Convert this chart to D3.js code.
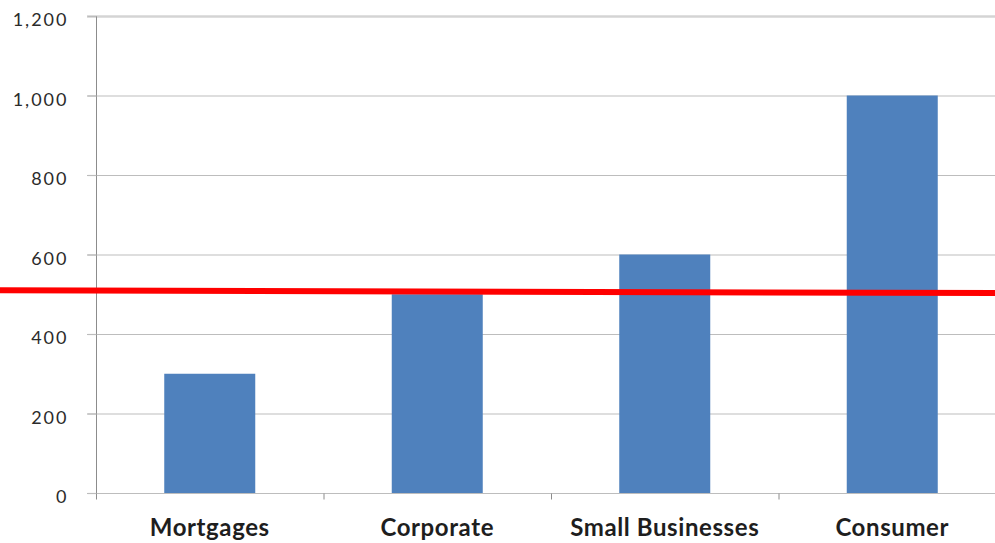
<!DOCTYPE html>
<html>
<head>
<meta charset="utf-8">
<script src="https://cdn.jsdelivr.net/npm/d3@7"></script>
<style>
  body { margin: 0; background: #fff; }
  svg { display: block; }
</style>
</head>
<body>
<svg width="995" height="543"></svg>
<script>
// chart data
var categories = ["Mortgages", "Corporate", "Small Businesses", "Consumer"];
var values = [300, 500, 600, 1000];
var yTicks = [0, 200, 400, 600, 800, 1000, 1200];
// red threshold line, value at left edge and right edge
var thresholdValues = [510, 503];

var svg = d3.select("svg"),
  width = +svg.attr("width"),
  height = +svg.attr("height");

var margin = {left: 96, top: 16, bottom: 50};
var plotRight = 1006;

var x = d3.scaleBand()
  .domain(categories)
  .range([margin.left, plotRight])
  .paddingInner(0.6)
  .paddingOuter(0.3);

var y = d3.scaleLinear()
  .domain([0, 1200])
  .range([height - margin.bottom, margin.top]);

var fmt = d3.format(",");

// gridlines
svg.append("g")
  .attr("class", "grid")
  .selectAll("line")
  .data(yTicks.filter(function (d) { return d > 0; }))
  .enter().append("line")
  .attr("x1", margin.left - 9)
  .attr("x2", width)
  .attr("y1", function (d) { return y(d) + 0.5; })
  .attr("y2", function (d) { return y(d) + 0.5; })
  .attr("stroke", function (d) { return d == 1200 ? "#d4d4d4" : "#bdbdbd"; })
  .attr("stroke-width", function (d) { return d == 1200 ? 2.5 : 1.2; });

// y axis
var yAxis = svg.append("g")
  .attr("transform", "translate(" + (margin.left + 0.5) + ",0)")
  .call(d3.axisLeft(y).tickValues(yTicks).tickFormat(fmt).tickSize(9).tickPadding(19));
yAxis.select(".domain").attr("stroke", "#8c8c8c").attr("d", "M0," + y(1200) + "V" + (y(0) + 6));
yAxis.selectAll(".tick line").attr("stroke", "#bdbdbd").attr("stroke-width", 1.2);
yAxis.selectAll(".tick text")
  .attr("fill", "#2b2b2b")
  .attr("dy", "0.55em")
  .style("font-family", "Lato, 'Open Sans', sans-serif")
  .style("font-size", "18px")
  .style("letter-spacing", "2px");

// bars
svg.append("g")
  .attr("class", "bars")
  .selectAll("rect")
  .data(values)
  .enter().append("rect")
  .attr("x", function (d, i) { return x(categories[i]); })
  .attr("width", x.bandwidth())
  .attr("y", function (d) { return y(d); })
  .attr("height", function (d) { return y(0) - y(d); })
  .attr("fill", "#4f81bd");

// x axis
var xAxis = svg.append("g")
  .attr("transform", "translate(0," + (y(0) + 0.5) + ")");
xAxis.append("line")
  .attr("x1", margin.left - 9)
  .attr("x2", width)
  .attr("stroke", "#bdbdbd")
  .attr("stroke-width", 1.2);
var gap = (x.step() - x.bandwidth()) / 2;
xAxis.selectAll("line.tk")
  .data(categories)
  .enter().append("line")
  .attr("class", "tk")
  .attr("x1", function (d) { return x(d) - gap + 0.5; })
  .attr("x2", function (d) { return x(d) - gap + 0.5; })
  .attr("y1", 0)
  .attr("y2", 6)
  .attr("stroke", "#8c8c8c");
xAxis.selectAll("text")
  .data(categories)
  .enter().append("text")
  .attr("x", function (d) { return x(d) + x.bandwidth() / 2; })
  .attr("y", 42)
  .attr("text-anchor", "middle")
  .attr("fill", "#1e1e1e")
  .style("font-family", "Lato, 'Open Sans', sans-serif")
  .style("font-size", "24px")
  .style("font-weight", "bold")
  .style("letter-spacing", "0.6px")
  .text(function (d) { return d; });

// threshold line
var xLine = d3.scaleLinear().domain([0, 1]).range([0, width]);
var line = d3.line()
  .x(function (d, i) { return xLine(i); })
  .y(function (d) { return y(d); });
svg.append("path")
  .datum(thresholdValues)
  .attr("d", line)
  .attr("fill", "none")
  .attr("stroke", "#ff0000")
  .attr("stroke-width", 6);
</script>
</body>
</html>
